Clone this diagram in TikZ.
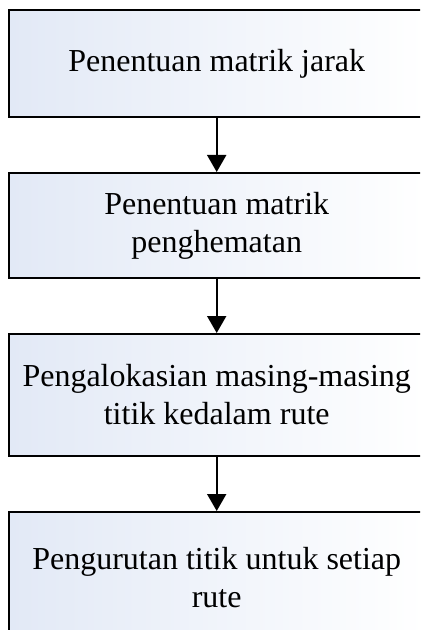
\documentclass[tikz,border=0pt]{standalone}
\usepackage{fontspec}
\setmainfont{Liberation Serif}
\usetikzlibrary{positioning,arrows.meta}

\definecolor{birumuda}{RGB}{226,233,246}

\tikzset{
  prosesbox/.style={draw, line width=1pt, left color=birumuda, right color=white,
    minimum width=208pt, align=center, inner sep=0pt,
    font=\fontsize{16pt}{19pt}\selectfont},
  panah/.style={line width=1pt, -{Triangle[width=9.5pt,length=8.5pt]}}
}

\begin{document}
\begin{tikzpicture}[node distance=27pt]
    % Batas gambar
    \useasboundingbox (0,0) rectangle (210pt,-315pt);
    \clip (0,0) rectangle (210pt,-315pt);

    % Kotak proses
    \node[prosesbox, minimum height=53.5pt] (jarak) at (108.35pt,-31.75pt) {Penentuan matrik jarak};
    \node[prosesbox, minimum height=52.5pt, below=of jarak] (hemat) {Penentuan matrik\\penghematan};
    \node[prosesbox, minimum height=61pt, below=of hemat] (alokasi) {Pengalokasian masing-masing\\titik kedalam rute};
    \node[prosesbox, minimum height=66pt, below=of alokasi] (urut) {Pengurutan titik untuk setiap\\rute};

    % Panah antar kotak
    \draw[panah] (jarak) -- (hemat);
    \draw[panah] (hemat) -- (alokasi);
    \draw[panah] (alokasi) -- (urut);
\end{tikzpicture}
\end{document}
